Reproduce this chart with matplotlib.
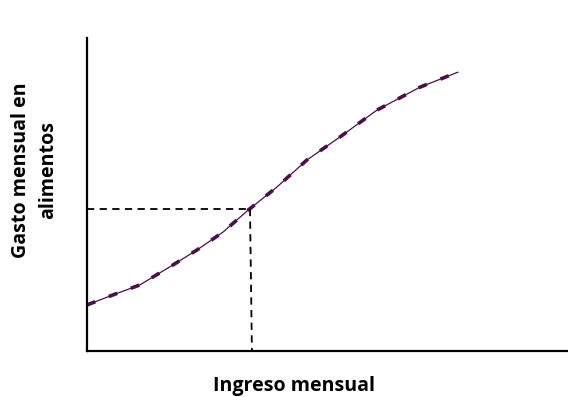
import matplotlib
matplotlib.use("Agg")
import matplotlib.pyplot as plt

# curva de gasto vs ingreso (unidades arbitrarias)
ingreso = [0, 5.4, 11.0, 17.9, 22.9, 28.3, 33.5, 39.5, 45.7, 52.6, 60.3, 69.2, 77.1]
gasto = [14.7, 17.9, 21.1, 27.5, 32.3, 38.0, 45.0, 52.4, 61.0, 68.4, 77.0, 84.3, 89.1]

# punto marcado con líneas discontinuas
punto_x = 33.9
punto_y = 45.4

fig = plt.figure(figsize=(5.68, 3.97), dpi=100)
ax = fig.add_axes([0.153, 0.116, 0.847, 0.788])

color = '#4a1048'
ax.plot(ingreso, gasto, color=color, lw=0.9)
ax.plot(ingreso, gasto, color=color, lw=2.6, linestyle=(0, (2.5, 4)))
ax.plot([0, punto_x], [punto_y, punto_y], color='black', lw=1.3, linestyle=(0, (4, 3)))
ax.plot([punto_x, punto_x + 0.4], [punto_y, 0], color='black', lw=1.3, linestyle=(0, (4, 3)))

ax.set_xlim(0, 100)
ax.set_ylim(0, 100)
ax.set_xticks([])
ax.set_yticks([])
for s in ['top', 'right']:
    ax.spines[s].set_visible(False)
for s in ['left', 'bottom']:
    ax.spines[s].set_linewidth(1.6)

# ajustar el tamaño de letra para que el título del eje x mida ~162 px
xl = fig.text(0.518, 0.027, 'Ingreso mensual', ha='center', va='center',
              fontsize=12, fontweight='bold', family='Open Sans')
fig.canvas.draw()
w = xl.get_window_extent().width
fs = 12 * 162 / w
xl.set_fontsize(fs)

fig.text(0.061, 0.572, 'Gasto mensual en\nalimentos', ha='center', va='center',
         rotation=90, fontsize=fs, fontweight='bold', family='Open Sans',
         linespacing=1.45)

fig.savefig('out.png', dpi=100)
